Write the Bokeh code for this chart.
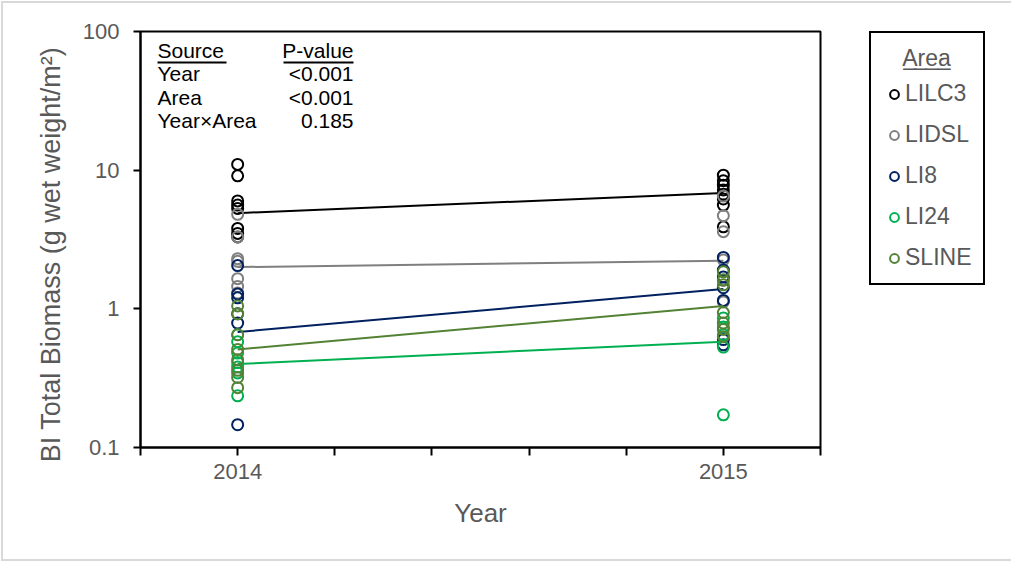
import numpy as np
from bokeh.plotting import figure
from bokeh.models import (FixedTicker, Legend, LegendItem, Label, BoxAnnotation)
from bokeh.embed import file_html
from bokeh.resources import INLINE

# ---------------- data ----------------
areas = ["LILC3", "LIDSL", "LI8", "LI24", "SLINE"]
colors = ["#000000", "#7F7F7F", "#002060", "#00B050", "#548235"]
years = [2014, 2015]

LILC3_2014 = [11.0, 9.1, 6.0, 5.6, 5.3, 3.8, 3.5, 3.3]
LILC3_2015 = [9.2, 8.4, 7.8, 7.2, 6.7, 6.2, 5.6, 3.9]
LIDSL_2014 = [4.8, 3.3, 2.3, 2.2, 1.65, 1.45, 1.3]
LIDSL_2015 = [6.5, 4.7, 3.6, 2.25, 1.6, 1.12]
LI8_2014 = [2.05, 1.28, 1.2, 0.92, 0.79, 0.146]
LI8_2015 = [2.35, 1.9, 1.7, 1.42, 1.15, 0.6, 0.55]
LI24_2014 = [0.65, 0.58, 0.48, 0.41, 0.38, 0.345, 0.236]
LI24_2015 = [0.86, 0.74, 0.65, 0.53, 0.172]
SLINE_2014 = [1.05, 0.92, 0.65, 0.51, 0.43, 0.36, 0.32, 0.27]
SLINE_2015 = [1.85, 1.62, 1.49, 0.94, 0.79, 0.71, 0.63]

means_2014 = [4.9, 2.0, 0.68, 0.40, 0.51]
means_2015 = [6.85, 2.22, 1.39, 0.58, 1.05]

points = {
    "LILC3": (LILC3_2014, LILC3_2015),
    "LIDSL": (LIDSL_2014, LIDSL_2015),
    "LI8": (LI8_2014, LI8_2015),
    "LI24": (LI24_2014, LI24_2015),
    "SLINE": (SLINE_2014, SLINE_2015),
}

table_sources = ["Year", "Area", "Year\u00d7Area"]
table_pvalues = ["<0.001", "<0.001", "0.185"]

x_ticks = [2013.8, 2014.0, 2014.2, 2014.4, 2014.6, 2014.8, 2015.0, 2015.2]
y_ticks = [0.1, 1, 10, 100]

FONT = "Liberation Sans"
GREY = "#595959"
NB = "\u00a0"
UL = "\u0332"

# ---------------- figure ----------------
p = figure(frame_width=680, frame_height=416, x_range=(2013.8, 2015.2), y_range=(0.1, 100),
           y_axis_type="log", output_backend="svg", toolbar_location=None,
           min_border_left=140, min_border_right=191, min_border_top=31,
           min_border_bottom=115)
p.styles = {"background-color": "white",
            "box-shadow": "inset 0 0 0 1px #ffffff, inset 0 0 0 3px #d9d9d9"}
p.xgrid.visible = False
p.ygrid.visible = False
p.outline_line_color = "black"
p.outline_line_width = 2
p.background_fill_color = "white"
p.border_fill_color = None

# axes
xa = p.xaxis[0]
xa.ticker = FixedTicker(ticks=x_ticks)
xa.major_label_overrides = {t: (str(int(round(t))) if abs(t - round(t)) < 1e-9 else "")
                            for t in x_ticks}
xa.minor_tick_line_color = None
xa.major_tick_out = 8
xa.major_tick_in = 0
xa.major_tick_line_width = 2
xa.axis_line_width = 2
xa.axis_line_color = "black"
xa.major_tick_line_color = "black"
xa.major_label_text_font = FONT
xa.major_label_text_font_size = "22px"
xa.major_label_text_color = GREY
xa.major_label_standoff = 8
xa.axis_label = "Year"
xa.axis_label_text_font = FONT
xa.axis_label_text_font_size = "26px"
xa.axis_label_text_font_style = "normal"
xa.axis_label_text_color = GREY
xa.axis_label_standoff = 16

ya = p.yaxis[0]
ya.ticker = FixedTicker(ticks=y_ticks, minor_ticks=[])
ya.major_label_overrides = {0.1: "0.1", 1: "1", 10: "10", 100: "100"}
ya.minor_tick_line_color = None
ya.major_tick_out = 7
ya.major_tick_in = 0
ya.major_tick_line_width = 2
ya.axis_line_width = 2
ya.axis_line_color = "black"
ya.major_tick_line_color = "black"
ya.major_label_text_font = FONT
ya.major_label_text_font_size = "22px"
ya.major_label_text_color = GREY
ya.major_label_standoff = 14
ya.axis_label = "BI Total Biomass (g wet weight/m\u00b2)" + NB * 4
ya.axis_label_text_font = FONT
ya.axis_label_text_font_size = "27px"
ya.axis_label_text_font_style = "normal"
ya.axis_label_text_color = GREY
ya.axis_label_standoff = 14

# ---------------- marks ----------------
renderers = []
for i, (area, col) in enumerate(zip(areas, colors)):
    v14, v15 = points[area]
    xs = [years[0]] * len(v14) + [years[1]] * len(v15)
    ys = list(v14) + list(v15)
    p.line(x=years, y=[means_2014[i], means_2015[i]], line_color=col, line_width=2)
    r = p.scatter(x=xs, y=ys, marker="circle", size=11, fill_color=None,
                  line_color=col, line_width=2)
    renderers.append(r)

# ---------------- legend ----------------
title = NB * 3 + "".join(c + UL for c in "Area")
legend = Legend(items=[LegendItem(label=a, renderers=[r]) for a, r in zip(areas, renderers)],
                location=(49, 162), title=title, title_text_font=FONT,
                title_text_font_size="23px", title_text_font_style="normal",
                title_text_color=GREY,
                title_standoff=8, border_line_color="black", border_line_width=2,
                border_line_alpha=1,
                background_fill_color="white", background_fill_alpha=1,
                padding=12, margin=0, glyph_width=22, glyph_height=22,
                label_standoff=0, label_height=26, spacing=14,
                label_text_font=FONT, label_text_font_size="23px",
                label_text_color=GREY)
p.add_layout(legend, "right")

# ---------------- table ----------------
p.add_layout(Label(x=17, y=397, x_units="screen", y_units="screen", text="Source",
                   text_font=FONT, text_font_size="21px", text_color="black",
                   text_align="left", text_baseline="middle"))
p.add_layout(Label(x=213, y=397, x_units="screen", y_units="screen", text="P-value",
                   text_font=FONT, text_font_size="21px", text_color="black",
                   text_align="right", text_baseline="middle"))
for lft, rgt in [(17, 86), (143, 213)]:
    p.add_layout(BoxAnnotation(left=lft, right=rgt, bottom=384, top=386,
                               left_units="screen", right_units="screen",
                               bottom_units="screen", top_units="screen",
                               fill_color="black", fill_alpha=1, line_color=None))
for k, (s, pv) in enumerate(zip(table_sources, table_pvalues)):
    yy = 374 - 23.5 * k
    p.add_layout(Label(x=17, y=yy, x_units="screen", y_units="screen", text=s,
                       text_font=FONT, text_font_size="21px", text_color="black",
                       text_align="left", text_baseline="middle"))
    p.add_layout(Label(x=213, y=yy, x_units="screen", y_units="screen", text=pv,
                       text_font=FONT, text_font_size="21px", text_color="black",
                       text_align="right", text_baseline="middle"))

open("out.html", "w").write(file_html(p, INLINE))
